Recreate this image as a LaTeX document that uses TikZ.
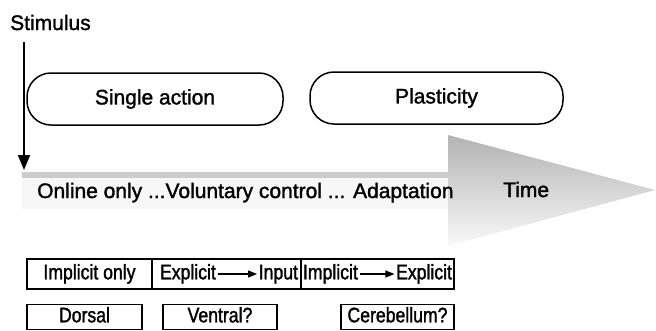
\documentclass[tikz,border=0pt]{standalone}
\usepackage{fontspec}
\setmainfont{Liberation Sans}[FakeBold=1.5]
\newfontfamily\cellfont{Liberation Sans}[FakeStretch=0.84, FakeBold=1.5]
\usetikzlibrary{arrows.meta}

\begin{document}
\begin{tikzpicture}[x=1pt,y=1pt,
    bigtxt/.style={font=\fontsize{21}{24}\selectfont, inner sep=0pt},
    rbox/.style={draw, line width=1.5pt, rounded corners=24pt, minimum height=52pt, bigtxt},
    cell/.style={draw, line width=1.4pt, inner sep=0pt, font=\cellfont\fontsize{21}{24}\selectfont, text height=15pt, text depth=4.4pt},
    celltxt/.style={inner sep=1.5pt, font=\cellfont\fontsize{21}{24}\selectfont, text height=15pt, text depth=4.4pt},
    txtarrow/.style={line width=1.1pt, -{Triangle[length=9pt,width=7pt]}}]
  \useasboundingbox (0,0) rectangle (656,-330);

  % time arrow
  \def\shafttop{-172}
  \def\shaftbot{-209}
  \def\headx{448}
  \fill [gray!6] (22,\shafttop) rectangle (\headx,\shaftbot);
  \fill [gray!40] (22,\shafttop) rectangle (\headx,\shafttop-6);
  \shade [top color=gray!60, bottom color=gray!5]
    (\headx,-135) -- (655,-190) -- (\headx,-246) -- cycle;

  \node [bigtxt, anchor=base west] (stim) at (10,-30) {Stimulus};
  \coordinate (stimtop) at (24,-42);
  \coordinate (stimend) at (24,-170);
  \draw [line width=1.7pt, -{Triangle[length=15pt,width=12pt]}] (stimtop) -- (stimend);

  \node [rbox, minimum width=256pt] (single) at (155,-99) {Single action};
  \node [rbox, minimum width=253pt] (plast) at (436.5,-98) {Plasticity};

  \node [bigtxt, anchor=base west] (phases) at (37,-198) {Online only ...Voluntary control ... Adaptation};
  \node [bigtxt, anchor=base west] (time) at (503,-197) {Time};

  % routes
  \node [cell, minimum width=125pt, minimum height=30pt] (impl) at (89.5,-274) {Implicit only};
  \node [cell, minimum width=149pt, minimum height=30pt] (explin) at (226.5,-274) {};
  \node [cell, minimum width=153pt, minimum height=30pt] (implex) at (377.5,-274) {};

  \node [celltxt, anchor=west] (expl) at ([xshift=7pt]explin.west) {Explicit};
  \node [celltxt, anchor=east] (input) at ([xshift=-2pt]explin.east) {Input};
  \draw [txtarrow] (expl) -- (input);

  \node [celltxt, anchor=west] (implb) at ([xshift=1pt]implex.west) {Implicit};
  \node [celltxt, anchor=east] (explb) at ([xshift=-1pt]implex.east) {Explicit};
  \draw [txtarrow] (implb) -- (explb);

  % areas
  \node [cell, minimum width=115pt, minimum height=25pt] (dorsal) at (84.5,-317) {Dorsal};
  \node [cell, minimum width=114pt, minimum height=25pt] (ventral) at (220,-317) {Ventral?};
  \node [cell, minimum width=113pt, minimum height=25pt] (cereb) at (397.5,-317) {Cerebellum?};
\end{tikzpicture}
\end{document}
